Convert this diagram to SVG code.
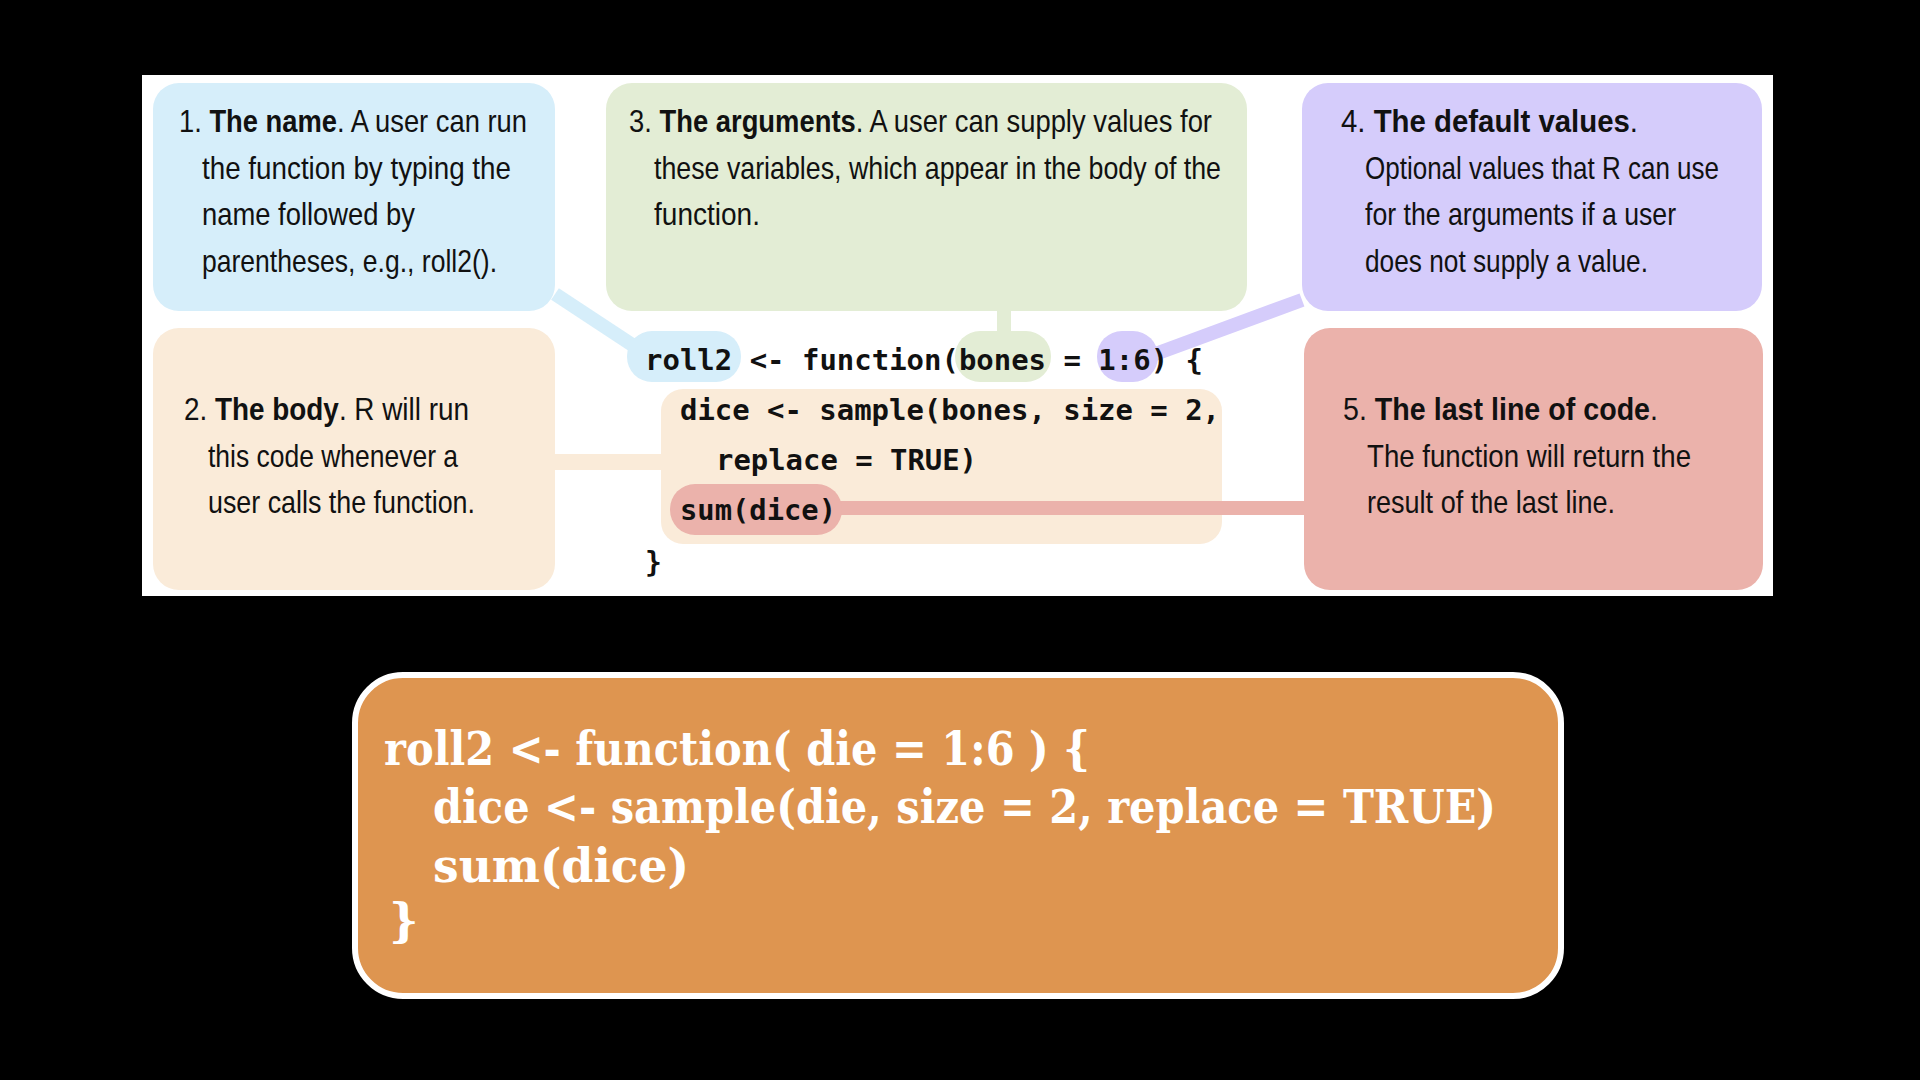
<svg xmlns="http://www.w3.org/2000/svg" width="1920" height="1080" viewBox="0 0 1920 1080">
<style>
.t{font-family:"Liberation Sans Narrow","Liberation Sans",sans-serif;font-size:32px;fill:#111}
.b{font-weight:bold}
.c{font-family:"DejaVu Sans Mono","Liberation Mono",monospace;font-weight:bold;font-size:28px;fill:#111}
.o{font-family:"DejaVu Serif","Liberation Serif",serif;font-weight:bold;font-size:46px;fill:#fff}
</style>
<rect width="1920" height="1080" fill="#000"/>
<rect x="142" y="75" width="1631" height="521" fill="#fff"/>
<rect x="661" y="389" width="561" height="155" rx="22" fill="#FAEBD9"/>
<g id="connectors" stroke-linecap="butt" fill="none">
<line x1="555" y1="294" x2="640" y2="350" stroke="#D6EEFA" stroke-width="14"/>
<line x1="1004" y1="311" x2="1004" y2="333" stroke="#E3EDD5" stroke-width="14"/>
<line x1="1302" y1="300" x2="1150" y2="356" stroke="#D5CCFB" stroke-width="14"/>
<line x1="555" y1="462" x2="663" y2="462" stroke="#FAEBD9" stroke-width="16"/>
<line x1="840" y1="508" x2="1306" y2="508" stroke="#EBB2AB" stroke-width="14"/>
</g>
<g id="n1"><rect x="153" y="83" width="402" height="228" rx="26" fill="#D6EEFA"/>
<text class="t" x="179" y="132" textLength="348" lengthAdjust="spacingAndGlyphs">1. <tspan class="b">The name</tspan>. A user can run</text>
<text class="t" x="202" y="179" textLength="309" lengthAdjust="spacingAndGlyphs">the function by typing the</text>
<text class="t" x="202" y="225" textLength="213" lengthAdjust="spacingAndGlyphs">name followed by</text>
<text class="t" x="202" y="272" textLength="295" lengthAdjust="spacingAndGlyphs">parentheses, e.g., roll2().</text></g>
<g id="n3"><rect x="606" y="83" width="641" height="228" rx="26" fill="#E3EDD5"/>
<text class="t" x="629" y="132" textLength="583" lengthAdjust="spacingAndGlyphs">3. <tspan class="b">The arguments</tspan>. A user can supply values for</text>
<text class="t" x="654" y="179" textLength="567" lengthAdjust="spacingAndGlyphs">these variables, which appear in the body of the</text>
<text class="t" x="654" y="225" textLength="106" lengthAdjust="spacingAndGlyphs">function.</text></g>
<g id="n4"><rect x="1302" y="83" width="460" height="228" rx="26" fill="#D5CCFB"/>
<text class="t" x="1341" y="132" textLength="297" lengthAdjust="spacingAndGlyphs">4. <tspan class="b">The default values</tspan>.</text>
<text class="t" x="1365" y="179" textLength="354" lengthAdjust="spacingAndGlyphs">Optional values that R can use</text>
<text class="t" x="1365" y="225" textLength="311" lengthAdjust="spacingAndGlyphs">for the arguments if a user</text>
<text class="t" x="1365" y="272" textLength="283" lengthAdjust="spacingAndGlyphs">does not supply a value.</text></g>
<g id="n2"><rect x="153" y="328" width="402" height="262" rx="26" fill="#FAEBD9"/>
<text class="t" x="184" y="420" textLength="285" lengthAdjust="spacingAndGlyphs">2. <tspan class="b">The body</tspan>. R will run</text>
<text class="t" x="208" y="467" textLength="250" lengthAdjust="spacingAndGlyphs">this code whenever a</text>
<text class="t" x="208" y="513" textLength="267" lengthAdjust="spacingAndGlyphs">user calls the function.</text></g>
<g id="n5"><rect x="1304" y="328" width="459" height="262" rx="26" fill="#EBB2AB"/>
<text class="t" x="1343" y="420" textLength="315" lengthAdjust="spacingAndGlyphs">5. <tspan class="b">The last line of code</tspan>.</text>
<text class="t" x="1367" y="467" textLength="324" lengthAdjust="spacingAndGlyphs">The function will return the</text>
<text class="t" x="1367" y="513" textLength="248" lengthAdjust="spacingAndGlyphs">result of the last line.</text></g>
<g id="code">
<rect x="627" y="331" width="114" height="51" rx="25" fill="#D6EEFA"/>
<rect x="955" y="331" width="96" height="51" rx="25" fill="#E3EDD5"/>
<rect x="1097" y="331" width="61" height="51" rx="25" fill="#D5CCFB"/>
<rect x="670" y="484" width="172" height="51" rx="25" fill="#EBB2AB"/>
<text class="c" x="645" y="370" textLength="558" lengthAdjust="spacingAndGlyphs">roll2 &lt;- function(bones = 1:6) {</text>
<text class="c" x="680" y="420" textLength="540" lengthAdjust="spacingAndGlyphs">dice &lt;- sample(bones, size = 2,</text>
<text class="c" x="716" y="470" textLength="261" lengthAdjust="spacingAndGlyphs">replace = TRUE)</text>
<text class="c" x="680" y="520" textLength="156" lengthAdjust="spacingAndGlyphs">sum(dice)</text>
<text class="c" x="645" y="572">}</text>
</g>
<g id="orange">
<rect x="355" y="675" width="1206" height="321" rx="48" fill="#DE9550" stroke="#fff" stroke-width="6"/>
<text class="o" x="384" y="765" textLength="706" lengthAdjust="spacingAndGlyphs">roll2 &lt;- function( die = 1:6 ) {</text>
<text class="o" x="433" y="823" textLength="1063" lengthAdjust="spacingAndGlyphs">dice &lt;- sample(die, size = 2, replace = TRUE)</text>
<text class="o" x="433" y="882" textLength="256" lengthAdjust="spacingAndGlyphs">sum(dice)</text>
<text class="o" x="389" y="937">}</text>
</g>
</svg>
